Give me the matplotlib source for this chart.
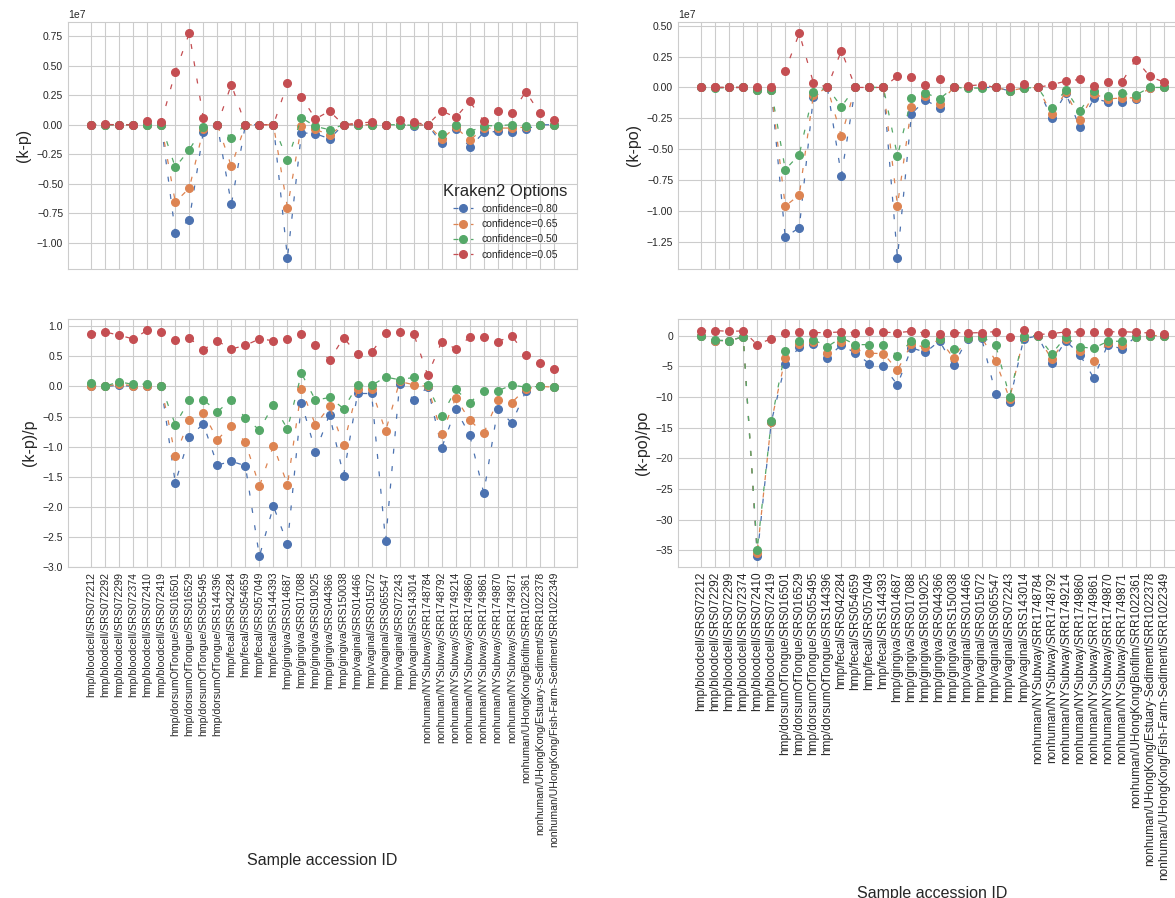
import numpy as np
import matplotlib
matplotlib.use("Agg")
import matplotlib.pyplot as plt
import seaborn as sns

sns.set_style("whitegrid")
plt.rcParams['font.family'] = ['Liberation Sans', 'DejaVu Sans']

samples = [
    "hmp/bloodcell/SRS072212", "hmp/bloodcell/SRS072292", "hmp/bloodcell/SRS072299",
    "hmp/bloodcell/SRS072374", "hmp/bloodcell/SRS072410", "hmp/bloodcell/SRS072419",
    "hmp/dorsumOfTongue/SRS016501", "hmp/dorsumOfTongue/SRS016529",
    "hmp/dorsumOfTongue/SRS055495", "hmp/dorsumOfTongue/SRS144396",
    "hmp/fecal/SRS042284", "hmp/fecal/SRS054659", "hmp/fecal/SRS057049", "hmp/fecal/SRS144393",
    "hmp/gingiva/SRS014687", "hmp/gingiva/SRS017088", "hmp/gingiva/SRS019025",
    "hmp/gingiva/SRS044366", "hmp/gingiva/SRS150038",
    "hmp/vaginal/SRS014466", "hmp/vaginal/SRS015072", "hmp/vaginal/SRS065547",
    "hmp/vaginal/SRS072243", "hmp/vaginal/SRS143014",
    "nonhuman/NYSubway/SRR1748784", "nonhuman/NYSubway/SRR1748792",
    "nonhuman/NYSubway/SRR1749214", "nonhuman/NYSubway/SRR1749860",
    "nonhuman/NYSubway/SRR1749861", "nonhuman/NYSubway/SRR1749870",
    "nonhuman/NYSubway/SRR1749871",
    "nonhuman/UHongKong/Biofilm/SRR1022361",
    "nonhuman/UHongKong/Estuary-Sediment/SRR1022378",
    "nonhuman/UHongKong/Fish-Farm-Sediment/SRR1022349",
]
options = ["confidence=0.80", "confidence=0.65", "confidence=0.50", "confidence=0.05"]

# (k-p), units of 1e7
kp_080 = [0, 0, 0, 0, 0, 0, -0.912, -0.802, -0.06, 0, -0.672, 0, 0, 0, -1.125, -0.068, -0.076,
          -0.118, 0, 0, 0, 0, 0, -0.008, 0, -0.158, -0.037, -0.19, -0.065, -0.056, -0.065, -0.037, 0, 0]
kp_065 = [0, 0, 0, 0, 0, 0, -0.653, -0.537, -0.04, 0, -0.352, 0, 0, 0, -0.70, -0.008, -0.04,
          -0.085, 0, 0, 0, 0, 0, -0.005, 0, -0.12, -0.02, -0.132, -0.03, -0.028, -0.028, -0.02, 0, 0]
kp_050 = [0, 0, 0, 0, -0.005, 0, -0.36, -0.211, -0.023, 0, -0.113, 0, 0, 0, -0.301, 0.059, -0.014,
          -0.042, 0, 0, -0.005, 0, 0, -0.005, 0, -0.076, -0.005, -0.06, -0.008, -0.008, 0, -0.008, 0, -0.003]
kp_005 = [0, 0.003, 0, 0, 0.028, 0.02, 0.445, 0.774, 0.059, 0, 0.34, 0, 0, 0, 0.349, 0.234, 0.05,
          0.115, 0, 0.014, 0.022, 0, 0.037, 0.022, 0, 0.118, 0.062, 0.197, 0.031, 0.113, 0.096, 0.281, 0.096, 0.039]

# (k-po), units of 1e7
kpo_080 = [0, 0, 0, 0, -0.02, -0.02, -1.214, -1.134, -0.081, 0, -0.714, 0, 0, 0, -1.379, -0.213, -0.102,
           -0.167, 0, 0, 0, 0, -0.027, -0.005, 0, -0.248, -0.046, -0.32, -0.089, -0.118, -0.118, -0.092, -0.005, 0]
kpo_065 = [0, 0, 0, 0, -0.02, -0.02, -0.961, -0.87, -0.065, 0, -0.393, 0, 0, 0, -0.956, -0.156, -0.073,
           -0.135, 0, 0, 0, 0, -0.027, -0.005, 0, -0.215, -0.038, -0.261, -0.054, -0.092, -0.086, -0.083, -0.005, 0]
kpo_050 = [0, -0.005, 0, 0, -0.024, -0.019, -0.665, -0.544, -0.038, 0, -0.156, 0, 0, 0, -0.555, -0.089, -0.043,
           -0.094, 0, -0.005, -0.005, 0, -0.027, -0.005, 0, -0.167, -0.019, -0.191, -0.027, -0.073, -0.048, -0.062, 0, 0]
kpo_005 = [0, 0, 0, 0, 0.005, 0.003, 0.137, 0.439, 0.04, 0, 0.299, 0, 0, 0, 0.092, 0.083, 0.022,
           0.067, 0, 0.013, 0.022, 0, 0.005, 0.027, 0, 0.022, 0.051, 0.065, 0.011, 0.048, 0.043, 0.226, 0.089, 0.043]

# (k-p)/p
rel_p_080 = [0.005, 0, 0.02, 0, 0, 0, -1.6, -0.84, -0.622, -1.306, -1.244, -1.317, -2.822, -1.989, -2.617,
             -0.267, -1.083, -0.467, -1.483, -0.117, -0.117, -2.567, 0.044, -0.222, -0.011, -1.022, -0.378,
             -0.806, -1.772, -0.372, -0.606, -0.078, 0, -0.011]
rel_p_065 = [0.01, 0.003, 0.04, 0.01, 0.01, 0.003, -1.15, -0.56, -0.433, -0.883, -0.65, -0.928, -1.656, -0.983,
             -1.633, -0.044, -0.639, -0.333, -0.972, -0.05, -0.05, -0.744, 0.083, 0.028, 0, -0.789, -0.189,
             -0.561, -0.778, -0.228, -0.267, -0.039, 0, -0.011]
rel_p_050 = [0.05, 0.005, 0.078, 0.033, 0.04, 0.005, -0.633, -0.228, -0.217, -0.422, -0.217, -0.528, -0.722,
             -0.306, -0.706, 0.217, -0.228, -0.183, -0.367, 0.017, 0.017, 0.156, 0.111, 0.15, 0.017, -0.489,
             -0.05, -0.267, -0.072, -0.072, 0.022, -0.011, 0, -0.011]
rel_p_005 = [0.878, 0.906, 0.85, 0.79, 0.933, 0.9, 0.767, 0.806, 0.611, 0.756, 0.622, 0.683, 0.789, 0.761,
             0.794, 0.878, 0.683, 0.433, 0.811, 0.533, 0.567, 0.883, 0.9, 0.878, 0.189, 0.744, 0.628, 0.817,
             0.822, 0.744, 0.839, 0.528, 0.383, 0.294]

# (k-po)/po
rel_po_080 = [-0.1, -0.8, -0.82, -0.2, -35.9, -14.1, -4.67, -1.9, -1.3, -3.7, -1.47, -2.88, -4.57, -4.95, -8.04,
              -2.0, -2.72, -0.87, -4.84, -0.54, -0.38, -9.46, -10.76, -0.54, -0.05, -4.46, -0.82, -3.1, -6.9,
              -1.47, -2.17, -0.16, 0, 0]
rel_po_065 = [-0.1, -0.8, -0.82, -0.2, -35.4, -14.05, -3.7, -1.41, -0.98, -2.83, -0.98, -2.23, -2.88, -2.93,
              -5.6, -1.41, -1.9, -0.6, -3.64, -0.45, -0.3, -4.13, -10.3, -0.27, -0.05, -3.86, -0.6, -2.5, -4.13,
              -1.14, -1.47, -0.16, 0, 0]
rel_po_050 = [-0.1, -0.76, -0.82, -0.2, -34.9, -14.0, -2.55, -0.92, -0.65, -1.8, -0.33, -1.47, -1.47, -1.52,
              -3.26, -0.87, -1.2, -0.49, -2.23, -0.33, -0.2, -1.47, -9.95, -0.05, 0, -2.99, -0.22, -1.85, -2.07,
              -0.92, -0.92, -0.16, 0, 0]
rel_po_005 = [0.82, 0.82, 0.7, 0.76, -1.47, -0.5, 0.43, 0.65, 0.49, 0.49, 0.6, 0.49, 0.7, 0.54, 0.49, 0.7,
              0.43, 0.33, 0.49, 0.43, 0.49, 0.65, -0.22, 0.87, 0.16, 0.33, 0.6, 0.6, 0.54, 0.6, 0.65, 0.54,
              0.43, 0.33]

colors = sns.color_palette("deep")[:4]
x = np.arange(len(samples))

fig = plt.figure(figsize=(11.75, 8.98), dpi=100)
W, H = 1175.0, 898.0


def make_ax(left, top, bottom):
    return fig.add_axes([left / W, (H - bottom) / H, 509 / W, (bottom - top) / H])


ax_kp = make_ax(68, 22, 269)
ax_kpo = make_ax(678, 22, 269)
ax_rp = make_ax(68, 319, 567)
ax_rpo = make_ax(678, 319, 567)

panels = [
    (ax_kp, "(k-p)", [kp_080, kp_065, kp_050, kp_005], 1e7),
    (ax_kpo, "(k-po)", [kpo_080, kpo_065, kpo_050, kpo_005], 1e7),
    (ax_rp, "(k-p)/p", [rel_p_080, rel_p_065, rel_p_050, rel_p_005], 1.0),
    (ax_rpo, "(k-po)/po", [rel_po_080, rel_po_065, rel_po_050, rel_po_005], 1.0),
]

for ax, ylabel, series, scale in panels:
    for vals, col, lab in zip(series, colors, options):
        ax.plot(x, np.array(vals) * scale, color=col, marker='o', markersize=5.5,
                linestyle=(0, (4, 10)), linewidth=0.9, label=lab)
    ax.set_ylabel(ylabel, fontsize=11.5)
    ax.set_xticks(x)
    ax.tick_params(axis='both', labelsize=7.5, colors='.15', length=0)
    ax.yaxis.get_offset_text().set_fontsize(7.5)
    for s in ax.spines.values():
        s.set_color('.8')

for ax in (ax_kp, ax_kpo):
    ax.set_xticklabels([])

ax_rp.set_xticklabels(samples, rotation=90, fontsize=7.6)
ax_rpo.set_xticklabels(samples, rotation=90, fontsize=8.5)
ax_rp.set_xlabel("Sample accession ID", fontsize=11.5)
ax_rpo.set_xlabel("Sample accession ID", fontsize=11.5)
ax_rp.set_yticks([1.0, 0.5, 0.0, -0.5, -1.0, -1.5, -2.0, -2.5, -3.0])
ax_rp.set_ylim(bottom=-3.0)

leg = ax_kp.legend(title="Kraken2 Options", loc="lower right", fontsize=7.5,
                   title_fontsize=12, frameon=False)

fig.savefig("out.png", dpi=100)
